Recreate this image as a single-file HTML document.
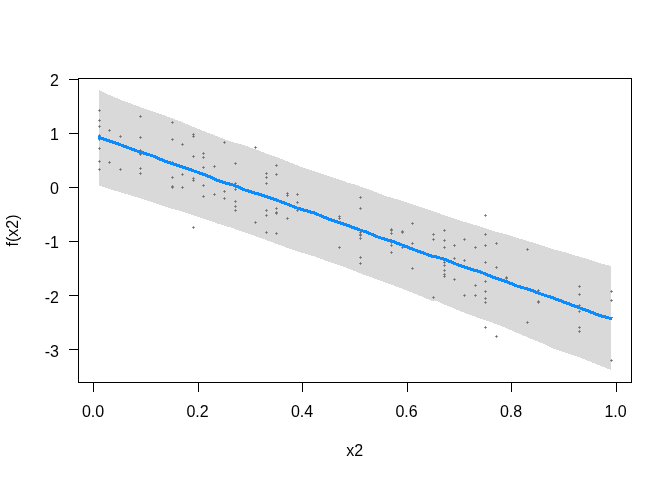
<!DOCTYPE html>
<html lang="en">
<head>
<meta charset="utf-8">
<title>Partial dependence plot: f(x2) vs x2</title>
<style>
html,body{margin:0;padding:0;background:#fff;}
body{width:672px;height:480px;overflow:hidden;}
svg{display:block;}
</style>
</head>
<body>
<svg width="672" height="480" viewBox="0 0 672 480">
<rect x="0" y="0" width="672" height="480" fill="#fff"/>
<polygon points="99.00,90.00 108.50,94.60 121.00,100.00 133.50,104.60 146.00,109.25 158.50,113.40 171.00,117.75 180.00,121.25 192.50,126.60 205.00,131.60 217.50,136.40 230.00,141.25 242.50,144.75 255.00,149.10 264.00,152.70 276.50,157.00 289.00,162.00 301.50,167.00 314.00,171.00 326.50,175.40 339.00,179.50 348.00,182.70 355.50,184.50 360.50,186.60 373.00,191.00 385.50,196.00 398.00,199.50 410.50,203.75 423.00,207.90 432.00,210.80 444.50,215.25 457.00,219.60 469.50,223.40 482.00,227.10 494.50,231.25 507.00,234.60 516.00,237.50 528.50,241.25 541.00,245.00 553.50,249.40 566.00,252.50 578.50,256.50 591.00,260.00 600.00,263.10 611.00,266.10 611.00,370.00 600.00,365.50 591.00,362.10 578.50,357.10 566.00,352.75 553.50,348.75 541.00,342.75 528.50,337.75 516.00,332.30 507.00,328.50 494.50,323.50 482.00,319.10 469.50,314.75 457.00,309.75 444.50,304.60 437.00,301.20 431.00,300.50 423.00,297.10 410.50,292.10 398.00,287.10 385.50,282.50 373.00,278.00 360.50,273.40 348.00,268.30 339.00,265.25 326.50,260.90 314.00,256.25 301.50,252.50 289.00,248.40 276.50,244.00 264.00,239.30 255.00,236.00 242.50,231.60 230.00,227.25 217.50,223.50 205.00,219.10 192.50,215.00 180.00,210.90 171.00,208.50 158.50,204.40 146.00,200.00 133.50,196.25 121.00,192.50 108.50,188.75 99.00,185.60" fill="#d9d9d9" shape-rendering="crispEdges"/>
<g fill="#6c6c6c"><path d="M99 109h1v1h1v1h-1v1h-1v-1h-1v-1h1z" opacity=".7"/><rect x="99" y="110" width="1" height="1"/><path d="M99 119h1v1h1v1h-1v1h-1v-1h-1v-1h1z" opacity=".7"/><rect x="99" y="120" width="1" height="1"/><path d="M99 125h1v1h1v1h-1v1h-1v-1h-1v-1h1z" opacity=".7"/><rect x="99" y="126" width="1" height="1"/><path d="M99 134h1v1h1v1h-1v1h-1v-1h-1v-1h1z" opacity=".7"/><rect x="99" y="135" width="1" height="1"/><path d="M99 138h1v1h1v1h-1v1h-1v-1h-1v-1h1z" opacity=".7"/><rect x="99" y="139" width="1" height="1"/><path d="M99 147h1v1h1v1h-1v1h-1v-1h-1v-1h1z" opacity=".7"/><rect x="99" y="148" width="1" height="1"/><path d="M99 160h1v1h1v1h-1v1h-1v-1h-1v-1h1z" opacity=".7"/><rect x="99" y="161" width="1" height="1"/><path d="M99 168h1v1h1v1h-1v1h-1v-1h-1v-1h1z" opacity=".7"/><rect x="99" y="169" width="1" height="1"/><path d="M109 129h1v1h1v1h-1v1h-1v-1h-1v-1h1z" opacity=".7"/><rect x="109" y="130" width="1" height="1"/><path d="M109 161h1v1h1v1h-1v1h-1v-1h-1v-1h1z" opacity=".7"/><rect x="109" y="162" width="1" height="1"/><path d="M120 135h1v1h1v1h-1v1h-1v-1h-1v-1h1z" opacity=".7"/><rect x="120" y="136" width="1" height="1"/><path d="M120 168h1v1h1v1h-1v1h-1v-1h-1v-1h1z" opacity=".7"/><rect x="120" y="169" width="1" height="1"/><path d="M140 115h1v1h1v1h-1v1h-1v-1h-1v-1h1z" opacity=".7"/><rect x="140" y="116" width="1" height="1"/><path d="M140 136h1v1h1v1h-1v1h-1v-1h-1v-1h1z" opacity=".7"/><rect x="140" y="137" width="1" height="1"/><path d="M140 149h1v1h1v1h-1v1h-1v-1h-1v-1h1z" opacity=".7"/><rect x="140" y="150" width="1" height="1"/><path d="M140 153h1v1h1v1h-1v1h-1v-1h-1v-1h1z" opacity=".7"/><rect x="140" y="154" width="1" height="1"/><path d="M140 167h1v1h1v1h-1v1h-1v-1h-1v-1h1z" opacity=".7"/><rect x="140" y="168" width="1" height="1"/><path d="M140 172h1v1h1v1h-1v1h-1v-1h-1v-1h1z" opacity=".7"/><rect x="140" y="173" width="1" height="1"/><path d="M172 121h1v1h1v1h-1v1h-1v-1h-1v-1h1z" opacity=".7"/><rect x="172" y="122" width="1" height="1"/><path d="M172 138h1v1h1v1h-1v1h-1v-1h-1v-1h1z" opacity=".7"/><rect x="172" y="139" width="1" height="1"/><path d="M172 161h1v1h1v1h-1v1h-1v-1h-1v-1h1z" opacity=".7"/><rect x="172" y="162" width="1" height="1"/><path d="M172 176h1v1h1v1h-1v1h-1v-1h-1v-1h1z" opacity=".7"/><rect x="172" y="177" width="1" height="1"/><path d="M172 185h1v1h1v1h-1v1h-1v-1h-1v-1h1z" opacity=".7"/><rect x="172" y="186" width="1" height="1"/><path d="M172 186h1v1h1v1h-1v1h-1v-1h-1v-1h1z" opacity=".7"/><rect x="172" y="187" width="1" height="1"/><path d="M182 143h1v1h1v1h-1v1h-1v-1h-1v-1h1z" opacity=".7"/><rect x="182" y="144" width="1" height="1"/><path d="M182 173h1v1h1v1h-1v1h-1v-1h-1v-1h1z" opacity=".7"/><rect x="182" y="174" width="1" height="1"/><path d="M182 186h1v1h1v1h-1v1h-1v-1h-1v-1h1z" opacity=".7"/><rect x="182" y="187" width="1" height="1"/><path d="M193 133h1v1h1v1h-1v1h-1v-1h-1v-1h1z" opacity=".7"/><rect x="193" y="134" width="1" height="1"/><path d="M193 135h1v1h1v1h-1v1h-1v-1h-1v-1h1z" opacity=".7"/><rect x="193" y="136" width="1" height="1"/><path d="M193 155h1v1h1v1h-1v1h-1v-1h-1v-1h1z" opacity=".7"/><rect x="193" y="156" width="1" height="1"/><path d="M193 177h1v1h1v1h-1v1h-1v-1h-1v-1h1z" opacity=".7"/><rect x="193" y="178" width="1" height="1"/><path d="M193 179h1v1h1v1h-1v1h-1v-1h-1v-1h1z" opacity=".7"/><rect x="193" y="180" width="1" height="1"/><path d="M193 226h1v1h1v1h-1v1h-1v-1h-1v-1h1z" opacity=".7"/><rect x="193" y="227" width="1" height="1"/><path d="M203 152h1v1h1v1h-1v1h-1v-1h-1v-1h1z" opacity=".7"/><rect x="203" y="153" width="1" height="1"/><path d="M203 156h1v1h1v1h-1v1h-1v-1h-1v-1h1z" opacity=".7"/><rect x="203" y="157" width="1" height="1"/><path d="M203 166h1v1h1v1h-1v1h-1v-1h-1v-1h1z" opacity=".7"/><rect x="203" y="167" width="1" height="1"/><path d="M203 184h1v1h1v1h-1v1h-1v-1h-1v-1h1z" opacity=".7"/><rect x="203" y="185" width="1" height="1"/><path d="M203 195h1v1h1v1h-1v1h-1v-1h-1v-1h1z" opacity=".7"/><rect x="203" y="196" width="1" height="1"/><path d="M214 165h1v1h1v1h-1v1h-1v-1h-1v-1h1z" opacity=".7"/><rect x="214" y="166" width="1" height="1"/><path d="M214 178h1v1h1v1h-1v1h-1v-1h-1v-1h1z" opacity=".7"/><rect x="214" y="179" width="1" height="1"/><path d="M214 193h1v1h1v1h-1v1h-1v-1h-1v-1h1z" opacity=".7"/><rect x="214" y="194" width="1" height="1"/><path d="M224 141h1v1h1v1h-1v1h-1v-1h-1v-1h1z" opacity=".7"/><rect x="224" y="142" width="1" height="1"/><path d="M224 190h1v1h1v1h-1v1h-1v-1h-1v-1h1z" opacity=".7"/><rect x="224" y="191" width="1" height="1"/><path d="M224 197h1v1h1v1h-1v1h-1v-1h-1v-1h1z" opacity=".7"/><rect x="224" y="198" width="1" height="1"/><path d="M235 162h1v1h1v1h-1v1h-1v-1h-1v-1h1z" opacity=".7"/><rect x="235" y="163" width="1" height="1"/><path d="M235 182h1v1h1v1h-1v1h-1v-1h-1v-1h1z" opacity=".7"/><rect x="235" y="183" width="1" height="1"/><path d="M235 188h1v1h1v1h-1v1h-1v-1h-1v-1h1z" opacity=".7"/><rect x="235" y="189" width="1" height="1"/><path d="M235 200h1v1h1v1h-1v1h-1v-1h-1v-1h1z" opacity=".7"/><rect x="235" y="201" width="1" height="1"/><path d="M235 205h1v1h1v1h-1v1h-1v-1h-1v-1h1z" opacity=".7"/><rect x="235" y="206" width="1" height="1"/><path d="M235 209h1v1h1v1h-1v1h-1v-1h-1v-1h1z" opacity=".7"/><rect x="235" y="210" width="1" height="1"/><path d="M255 146h1v1h1v1h-1v1h-1v-1h-1v-1h1z" opacity=".7"/><rect x="255" y="147" width="1" height="1"/><path d="M255 221h1v1h1v1h-1v1h-1v-1h-1v-1h1z" opacity=".7"/><rect x="255" y="222" width="1" height="1"/><path d="M266 172h1v1h1v1h-1v1h-1v-1h-1v-1h1z" opacity=".7"/><rect x="266" y="173" width="1" height="1"/><path d="M266 176h1v1h1v1h-1v1h-1v-1h-1v-1h1z" opacity=".7"/><rect x="266" y="177" width="1" height="1"/><path d="M266 182h1v1h1v1h-1v1h-1v-1h-1v-1h1z" opacity=".7"/><rect x="266" y="183" width="1" height="1"/><path d="M266 209h1v1h1v1h-1v1h-1v-1h-1v-1h1z" opacity=".7"/><rect x="266" y="210" width="1" height="1"/><path d="M266 214h1v1h1v1h-1v1h-1v-1h-1v-1h1z" opacity=".7"/><rect x="266" y="215" width="1" height="1"/><path d="M266 231h1v1h1v1h-1v1h-1v-1h-1v-1h1z" opacity=".7"/><rect x="266" y="232" width="1" height="1"/><path d="M276 164h1v1h1v1h-1v1h-1v-1h-1v-1h1z" opacity=".7"/><rect x="276" y="165" width="1" height="1"/><path d="M276 173h1v1h1v1h-1v1h-1v-1h-1v-1h1z" opacity=".7"/><rect x="276" y="174" width="1" height="1"/><path d="M276 207h1v1h1v1h-1v1h-1v-1h-1v-1h1z" opacity=".7"/><rect x="276" y="208" width="1" height="1"/><path d="M276 211h1v1h1v1h-1v1h-1v-1h-1v-1h1z" opacity=".7"/><rect x="276" y="212" width="1" height="1"/><path d="M276 212h1v1h1v1h-1v1h-1v-1h-1v-1h1z" opacity=".7"/><rect x="276" y="213" width="1" height="1"/><path d="M276 232h1v1h1v1h-1v1h-1v-1h-1v-1h1z" opacity=".7"/><rect x="276" y="233" width="1" height="1"/><path d="M287 192h1v1h1v1h-1v1h-1v-1h-1v-1h1z" opacity=".7"/><rect x="287" y="193" width="1" height="1"/><path d="M287 194h1v1h1v1h-1v1h-1v-1h-1v-1h1z" opacity=".7"/><rect x="287" y="195" width="1" height="1"/><path d="M287 217h1v1h1v1h-1v1h-1v-1h-1v-1h1z" opacity=".7"/><rect x="287" y="218" width="1" height="1"/><path d="M297 193h1v1h1v1h-1v1h-1v-1h-1v-1h1z" opacity=".7"/><rect x="297" y="194" width="1" height="1"/><path d="M297 201h1v1h1v1h-1v1h-1v-1h-1v-1h1z" opacity=".7"/><rect x="297" y="202" width="1" height="1"/><path d="M297 209h1v1h1v1h-1v1h-1v-1h-1v-1h1z" opacity=".7"/><rect x="297" y="210" width="1" height="1"/><path d="M339 215h1v1h1v1h-1v1h-1v-1h-1v-1h1z" opacity=".7"/><rect x="339" y="216" width="1" height="1"/><path d="M339 217h1v1h1v1h-1v1h-1v-1h-1v-1h1z" opacity=".7"/><rect x="339" y="218" width="1" height="1"/><path d="M339 246h1v1h1v1h-1v1h-1v-1h-1v-1h1z" opacity=".7"/><rect x="339" y="247" width="1" height="1"/><path d="M360 196h1v1h1v1h-1v1h-1v-1h-1v-1h1z" opacity=".7"/><rect x="360" y="197" width="1" height="1"/><path d="M360 207h1v1h1v1h-1v1h-1v-1h-1v-1h1z" opacity=".7"/><rect x="360" y="208" width="1" height="1"/><path d="M360 231h1v1h1v1h-1v1h-1v-1h-1v-1h1z" opacity=".7"/><rect x="360" y="232" width="1" height="1"/><path d="M360 233h1v1h1v1h-1v1h-1v-1h-1v-1h1z" opacity=".7"/><rect x="360" y="234" width="1" height="1"/><path d="M360 234h1v1h1v1h-1v1h-1v-1h-1v-1h1z" opacity=".7"/><rect x="360" y="235" width="1" height="1"/><path d="M360 237h1v1h1v1h-1v1h-1v-1h-1v-1h1z" opacity=".7"/><rect x="360" y="238" width="1" height="1"/><path d="M360 256h1v1h1v1h-1v1h-1v-1h-1v-1h1z" opacity=".7"/><rect x="360" y="257" width="1" height="1"/><path d="M360 262h1v1h1v1h-1v1h-1v-1h-1v-1h1z" opacity=".7"/><rect x="360" y="263" width="1" height="1"/><path d="M391 228h1v1h1v1h-1v1h-1v-1h-1v-1h1z" opacity=".7"/><rect x="391" y="229" width="1" height="1"/><path d="M391 229h1v1h1v1h-1v1h-1v-1h-1v-1h1z" opacity=".7"/><rect x="391" y="230" width="1" height="1"/><path d="M391 232h1v1h1v1h-1v1h-1v-1h-1v-1h1z" opacity=".7"/><rect x="391" y="233" width="1" height="1"/><path d="M391 241h1v1h1v1h-1v1h-1v-1h-1v-1h1z" opacity=".7"/><rect x="391" y="242" width="1" height="1"/><path d="M391 244h1v1h1v1h-1v1h-1v-1h-1v-1h1z" opacity=".7"/><rect x="391" y="245" width="1" height="1"/><path d="M391 251h1v1h1v1h-1v1h-1v-1h-1v-1h1z" opacity=".7"/><rect x="391" y="252" width="1" height="1"/><path d="M402 230h1v1h1v1h-1v1h-1v-1h-1v-1h1z" opacity=".7"/><rect x="402" y="231" width="1" height="1"/><path d="M402 231h1v1h1v1h-1v1h-1v-1h-1v-1h1z" opacity=".7"/><rect x="402" y="232" width="1" height="1"/><path d="M402 246h1v1h1v1h-1v1h-1v-1h-1v-1h1z" opacity=".7"/><rect x="402" y="247" width="1" height="1"/><path d="M412 222h1v1h1v1h-1v1h-1v-1h-1v-1h1z" opacity=".7"/><rect x="412" y="223" width="1" height="1"/><path d="M412 242h1v1h1v1h-1v1h-1v-1h-1v-1h1z" opacity=".7"/><rect x="412" y="243" width="1" height="1"/><path d="M412 267h1v1h1v1h-1v1h-1v-1h-1v-1h1z" opacity=".7"/><rect x="412" y="268" width="1" height="1"/><path d="M433 233h1v1h1v1h-1v1h-1v-1h-1v-1h1z" opacity=".7"/><rect x="433" y="234" width="1" height="1"/><path d="M433 238h1v1h1v1h-1v1h-1v-1h-1v-1h1z" opacity=".7"/><rect x="433" y="239" width="1" height="1"/><path d="M433 296h1v1h1v1h-1v1h-1v-1h-1v-1h1z" opacity=".7"/><rect x="433" y="297" width="1" height="1"/><path d="M444 229h1v1h1v1h-1v1h-1v-1h-1v-1h1z" opacity=".7"/><rect x="444" y="230" width="1" height="1"/><path d="M444 239h1v1h1v1h-1v1h-1v-1h-1v-1h1z" opacity=".7"/><rect x="444" y="240" width="1" height="1"/><path d="M444 246h1v1h1v1h-1v1h-1v-1h-1v-1h1z" opacity=".7"/><rect x="444" y="247" width="1" height="1"/><path d="M444 259h1v1h1v1h-1v1h-1v-1h-1v-1h1z" opacity=".7"/><rect x="444" y="260" width="1" height="1"/><path d="M444 261h1v1h1v1h-1v1h-1v-1h-1v-1h1z" opacity=".7"/><rect x="444" y="262" width="1" height="1"/><path d="M444 264h1v1h1v1h-1v1h-1v-1h-1v-1h1z" opacity=".7"/><rect x="444" y="265" width="1" height="1"/><path d="M444 269h1v1h1v1h-1v1h-1v-1h-1v-1h1z" opacity=".7"/><rect x="444" y="270" width="1" height="1"/><path d="M444 273h1v1h1v1h-1v1h-1v-1h-1v-1h1z" opacity=".7"/><rect x="444" y="274" width="1" height="1"/><path d="M444 275h1v1h1v1h-1v1h-1v-1h-1v-1h1z" opacity=".7"/><rect x="444" y="276" width="1" height="1"/><path d="M454 244h1v1h1v1h-1v1h-1v-1h-1v-1h1z" opacity=".7"/><rect x="454" y="245" width="1" height="1"/><path d="M454 257h1v1h1v1h-1v1h-1v-1h-1v-1h1z" opacity=".7"/><rect x="454" y="258" width="1" height="1"/><path d="M454 278h1v1h1v1h-1v1h-1v-1h-1v-1h1z" opacity=".7"/><rect x="454" y="279" width="1" height="1"/><path d="M464 238h1v1h1v1h-1v1h-1v-1h-1v-1h1z" opacity=".7"/><rect x="464" y="239" width="1" height="1"/><path d="M464 259h1v1h1v1h-1v1h-1v-1h-1v-1h1z" opacity=".7"/><rect x="464" y="260" width="1" height="1"/><path d="M464 294h1v1h1v1h-1v1h-1v-1h-1v-1h1z" opacity=".7"/><rect x="464" y="295" width="1" height="1"/><path d="M475 246h1v1h1v1h-1v1h-1v-1h-1v-1h1z" opacity=".7"/><rect x="475" y="247" width="1" height="1"/><path d="M475 284h1v1h1v1h-1v1h-1v-1h-1v-1h1z" opacity=".7"/><rect x="475" y="285" width="1" height="1"/><path d="M475 294h1v1h1v1h-1v1h-1v-1h-1v-1h1z" opacity=".7"/><rect x="475" y="295" width="1" height="1"/><path d="M485 214h1v1h1v1h-1v1h-1v-1h-1v-1h1z" opacity=".7"/><rect x="485" y="215" width="1" height="1"/><path d="M485 233h1v1h1v1h-1v1h-1v-1h-1v-1h1z" opacity=".7"/><rect x="485" y="234" width="1" height="1"/><path d="M485 244h1v1h1v1h-1v1h-1v-1h-1v-1h1z" opacity=".7"/><rect x="485" y="245" width="1" height="1"/><path d="M485 261h1v1h1v1h-1v1h-1v-1h-1v-1h1z" opacity=".7"/><rect x="485" y="262" width="1" height="1"/><path d="M485 280h1v1h1v1h-1v1h-1v-1h-1v-1h1z" opacity=".7"/><rect x="485" y="281" width="1" height="1"/><path d="M485 290h1v1h1v1h-1v1h-1v-1h-1v-1h1z" opacity=".7"/><rect x="485" y="291" width="1" height="1"/><path d="M485 297h1v1h1v1h-1v1h-1v-1h-1v-1h1z" opacity=".7"/><rect x="485" y="298" width="1" height="1"/><path d="M485 301h1v1h1v1h-1v1h-1v-1h-1v-1h1z" opacity=".7"/><rect x="485" y="302" width="1" height="1"/><path d="M485 326h1v1h1v1h-1v1h-1v-1h-1v-1h1z" opacity=".7"/><rect x="485" y="327" width="1" height="1"/><path d="M496 242h1v1h1v1h-1v1h-1v-1h-1v-1h1z" opacity=".7"/><rect x="496" y="243" width="1" height="1"/><path d="M496 266h1v1h1v1h-1v1h-1v-1h-1v-1h1z" opacity=".7"/><rect x="496" y="267" width="1" height="1"/><path d="M496 335h1v1h1v1h-1v1h-1v-1h-1v-1h1z" opacity=".7"/><rect x="496" y="336" width="1" height="1"/><path d="M506 276h1v1h1v1h-1v1h-1v-1h-1v-1h1z" opacity=".7"/><rect x="506" y="277" width="1" height="1"/><path d="M506 277h1v1h1v1h-1v1h-1v-1h-1v-1h1z" opacity=".7"/><rect x="506" y="278" width="1" height="1"/><path d="M527 248h1v1h1v1h-1v1h-1v-1h-1v-1h1z" opacity=".7"/><rect x="527" y="249" width="1" height="1"/><path d="M527 321h1v1h1v1h-1v1h-1v-1h-1v-1h1z" opacity=".7"/><rect x="527" y="322" width="1" height="1"/><path d="M538 289h1v1h1v1h-1v1h-1v-1h-1v-1h1z" opacity=".7"/><rect x="538" y="290" width="1" height="1"/><path d="M538 300h1v1h1v1h-1v1h-1v-1h-1v-1h1z" opacity=".7"/><rect x="538" y="301" width="1" height="1"/><path d="M538 301h1v1h1v1h-1v1h-1v-1h-1v-1h1z" opacity=".7"/><rect x="538" y="302" width="1" height="1"/><path d="M579 285h1v1h1v1h-1v1h-1v-1h-1v-1h1z" opacity=".7"/><rect x="579" y="286" width="1" height="1"/><path d="M579 293h1v1h1v1h-1v1h-1v-1h-1v-1h1z" opacity=".7"/><rect x="579" y="294" width="1" height="1"/><path d="M579 304h1v1h1v1h-1v1h-1v-1h-1v-1h1z" opacity=".7"/><rect x="579" y="305" width="1" height="1"/><path d="M579 310h1v1h1v1h-1v1h-1v-1h-1v-1h1z" opacity=".7"/><rect x="579" y="311" width="1" height="1"/><path d="M579 326h1v1h1v1h-1v1h-1v-1h-1v-1h1z" opacity=".7"/><rect x="579" y="327" width="1" height="1"/><path d="M579 330h1v1h1v1h-1v1h-1v-1h-1v-1h1z" opacity=".7"/><rect x="579" y="331" width="1" height="1"/><path d="M611 290h1v1h1v1h-1v1h-1v-1h-1v-1h1z" opacity=".7"/><rect x="611" y="291" width="1" height="1"/><path d="M611 299h1v1h1v1h-1v1h-1v-1h-1v-1h1z" opacity=".7"/><rect x="611" y="300" width="1" height="1"/><path d="M611 359h1v1h1v1h-1v1h-1v-1h-1v-1h1z" opacity=".7"/><rect x="611" y="360" width="1" height="1"/></g>
<polyline points="98.10,137.10 99.20,137.40 121.00,145.00 139.75,152.00 152.00,155.60 166.00,161.60 180.00,166.20 205.00,174.75 217.50,180.30 224.00,182.50 235.00,185.60 245.00,190.00 252.00,192.20 264.00,195.70 283.00,202.40 298.00,208.40 314.00,212.90 329.00,219.20 348.00,225.60 360.00,230.00 367.00,232.30 379.00,237.40 386.00,239.60 392.00,241.10 404.00,245.80 417.00,250.80 432.00,256.10 438.00,257.40 444.50,259.30 457.00,264.40 469.50,268.80 476.00,270.60 482.00,272.60 494.50,277.70 507.00,281.80 518.00,286.40 528.50,289.20 541.00,294.00 553.50,298.10 566.00,302.80 578.50,307.50 589.00,311.30 599.00,315.30 611.20,318.60 612.40,318.90" fill="none" stroke="#0a8cff" stroke-width="3.1" stroke-linejoin="round" stroke-linecap="butt" shape-rendering="crispEdges"/>
<g stroke="#000" stroke-width="1" fill="none" shape-rendering="crispEdges">
<rect x="78.5" y="78.5" width="553" height="304"/>
<line x1="93.5" y1="382" x2="93.5" y2="392"/>
<line x1="198.5" y1="382" x2="198.5" y2="392"/>
<line x1="302.5" y1="382" x2="302.5" y2="392"/>
<line x1="407.5" y1="382" x2="407.5" y2="392"/>
<line x1="511.5" y1="382" x2="511.5" y2="392"/>
<line x1="616.5" y1="382" x2="616.5" y2="392"/>
<line x1="69" y1="79.5" x2="78" y2="79.5"/>
<line x1="69" y1="133.5" x2="78" y2="133.5"/>
<line x1="69" y1="187.5" x2="78" y2="187.5"/>
<line x1="69" y1="241.5" x2="78" y2="241.5"/>
<line x1="69" y1="295.5" x2="78" y2="295.5"/>
<line x1="69" y1="349.5" x2="78" y2="349.5"/>
</g>
<g font-family="'Liberation Sans', Arial, sans-serif" font-size="16px" fill="#000">
<text x="93.08" y="417" text-anchor="middle">0.0</text>
<text x="197.57" y="417" text-anchor="middle">0.2</text>
<text x="302.06" y="417" text-anchor="middle">0.4</text>
<text x="406.54" y="417" text-anchor="middle">0.6</text>
<text x="511.03" y="417" text-anchor="middle">0.8</text>
<text x="615.52" y="417" text-anchor="middle">1.0</text>
<text x="59.0" y="86.1" text-anchor="end">2</text>
<text x="59.0" y="140.0" text-anchor="end">1</text>
<text x="59.0" y="194.0" text-anchor="end">0</text>
<text x="59.0" y="247.9" text-anchor="end">-1</text>
<text x="59.0" y="303.0" text-anchor="end">-2</text>
<text x="59.0" y="357.0" text-anchor="end">-3</text>
<text x="354.8" y="456.3" text-anchor="middle">x2</text>
<text transform="translate(17.7,230.4) rotate(-90)" text-anchor="middle">f(x2)</text>
</g>
</svg>
</body>
</html>
